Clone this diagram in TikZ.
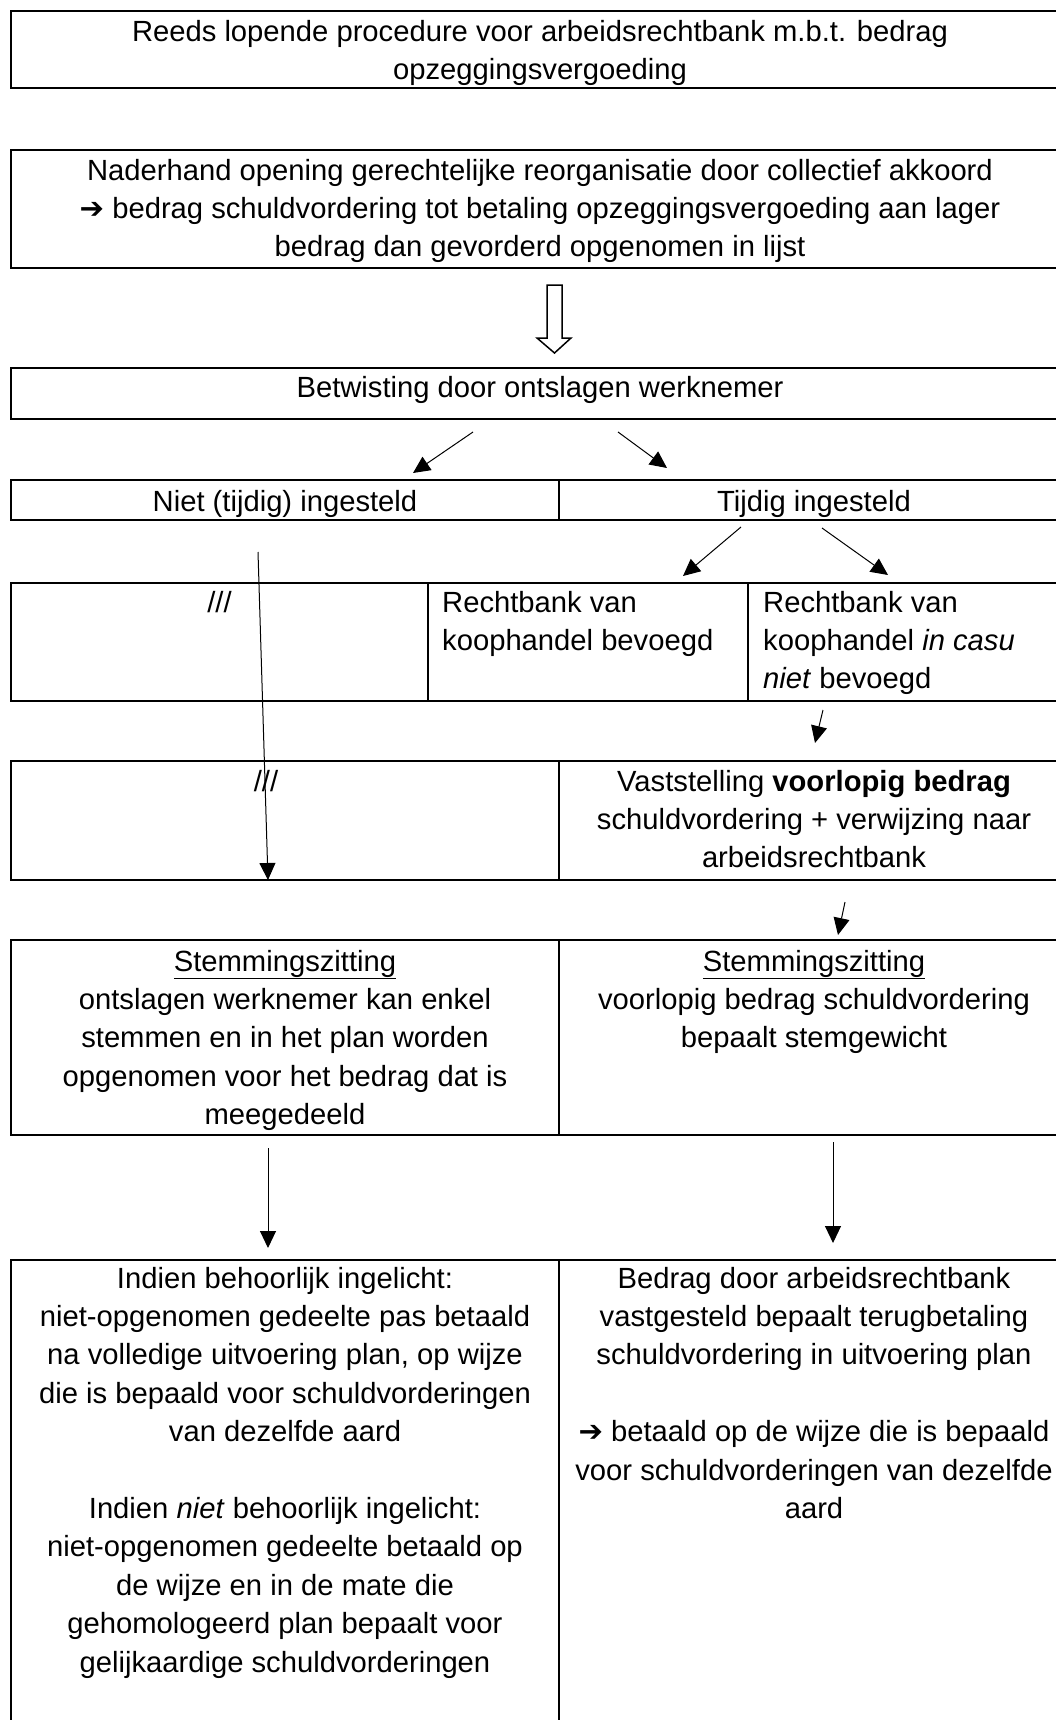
\documentclass[tikz,border=0pt]{standalone}
\usepackage{fontspec}
\setmainfont{Liberation Sans}
\newfontfamily\djv{DejaVu Sans}
\usetikzlibrary{arrows.meta}
\newcommand\myarrow{{\djv\bfseries ➔}}
\begin{document}
\begin{tikzpicture}[x=1pt,y=-1pt,
  cell/.style={draw, line width=1.6pt, inner sep=0pt, outer sep=0pt, anchor=north west},
  txt/.style={inner sep=0pt, anchor=north, align=center, font=\fontsize{29.2}{38.4}\selectfont},
  ltxt/.style={inner sep=0pt, anchor=north west, align=left, font=\fontsize{29.2}{38.4}\selectfont},
  arr/.style={line width=1pt, -{Triangle[length=17pt,width=16pt]}}]
\useasboundingbox (0,0) rectangle (1056,1720);
\clip (0,0) rectangle (1056,1720);
% cells
\node[cell, minimum width=1058pt, minimum height=77pt] (b1) at (11,11) {};
\node[cell, minimum width=1058pt, minimum height=118pt] (b2) at (11,150) {};
\node[cell, minimum width=1058pt, minimum height=51pt] (b3) at (11,368) {};
\node[cell, minimum width=548pt, minimum height=40pt] (r2l) at (11,480) {};
\node[cell, minimum width=510pt, minimum height=40pt] (r2r) at (559,480) {};
\node[cell, minimum width=417pt, minimum height=118pt] (r3a) at (11,583) {};
\node[cell, minimum width=320pt, minimum height=118pt] (r3b) at (428,583) {};
\node[cell, minimum width=321pt, minimum height=118pt] (r3c) at (748,583) {};
\node[cell, minimum width=548pt, minimum height=119pt] (r4l) at (11,761) {};
\node[cell, minimum width=510pt, minimum height=119pt] (r4r) at (559,761) {};
\node[cell, minimum width=548pt, minimum height=195pt] (r5l) at (11,940) {};
\node[cell, minimum width=510pt, minimum height=195pt] (r5r) at (559,940) {};
\node[cell, minimum width=548pt, minimum height=540pt] (r6l) at (11,1260) {};
\node[cell, minimum width=510pt, minimum height=540pt] (r6r) at (559,1260) {};
% texts
\node[txt] (t1) at ([yshift=-3pt]b1.north) {\strut Reeds lopende procedure voor arbeidsrechtbank m.b.t. bedrag\\opzeggingsvergoeding};
\node[txt] (t2) at ([yshift=-3pt]b2.north) {\strut Naderhand opening gerechtelijke reorganisatie door collectief akkoord\\\myarrow{} bedrag schuldvordering tot betaling opzeggingsvergoeding aan lager\\bedrag dan gevorderd opgenomen in lijst};
\node[txt] (t3) at ([yshift=-2pt]b3.north) {\strut Betwisting door ontslagen werknemer};
\node[txt] (t4) at ([yshift=-4pt]r2l.north) {\strut Niet (tijdig) ingesteld};
\node[txt] (t5) at ([yshift=-4pt]r2r.north) {\strut Tijdig ingesteld};
\node[txt] (t6) at ([yshift=-2pt]r3a.north) {\strut ///};
\node[ltxt] (t7) at ([xshift=14pt,yshift=-2pt]r3b.north west) {\strut Rechtbank van\\koophandel bevoegd};
\node[ltxt] (t8) at ([xshift=15pt,yshift=-2pt]r3c.north west) {\strut Rechtbank van\\koophandel \textit{in casu}\\\textit{niet} bevoegd};
\node[txt] (t9) at (266,764) {\strut ///};
\node[txt] (t10) at ([yshift=-3pt]r4r.north) {\strut Vaststelling \textbf{voorlopig bedrag}\\schuldvordering + verwijzing naar\\arbeidsrechtbank};
\node[txt] (t11) at ([yshift=-4pt]r5l.north) {\strut\underline{Stemmingszitting}\\ontslagen werknemer kan enkel\\stemmen en in het plan worden\\opgenomen voor het bedrag dat is\\meegedeeld};
\node[txt] (t12) at ([yshift=-4pt]r5r.north) {\strut\underline{Stemmingszitting}\\voorlopig bedrag schuldvordering\\bepaalt stemgewicht};
\node[txt] (t13) at ([yshift=-1pt]r6l.north) {\strut Indien behoorlijk ingelicht:\\niet-opgenomen gedeelte pas betaald\\na volledige uitvoering plan, op wijze\\die is bepaald voor schuldvorderingen\\van dezelfde aard\\[38.4pt]Indien \textit{niet} behoorlijk ingelicht:\\niet-opgenomen gedeelte betaald op\\de wijze en in de mate die\\gehomologeerd plan bepaalt voor\\gelijkaardige schuldvorderingen};
\node[txt] (t14) at ([yshift=-1pt]r6r.north) {\strut Bedrag door arbeidsrechtbank\\vastgesteld bepaalt terugbetaling\\schuldvordering in uitvoering plan\\[38.4pt]\myarrow{} betaald op de wijze die is bepaald\\voor schuldvorderingen van dezelfde\\aard};
% hollow arrow
\draw[line width=1.5pt, line join=miter] (547,285) -- (562,285) -- (562,338) -- (571,338) -- (554.5,353) -- (537,338) -- (547,338) -- cycle;
% arrow endpoints
\coordinate (a1s) at (473,432); \coordinate (a1e) at (413,473);
\coordinate (a2s) at (618,432); \coordinate (a2e) at (667,468);
\coordinate (a3s) at (741,527); \coordinate (a3e) at (683,576);
\coordinate (a4s) at (822,528); \coordinate (a4e) at (888,575);
\coordinate (a5s) at (823,710); \coordinate (a5e) at (815,743);
\coordinate (a6s) at (845,902); \coordinate (a6e) at (838,935);
\coordinate (lgs) at (258,552); \coordinate (lge) at (268,880);
\coordinate (a7s) at (268,1148); \coordinate (a7e) at (268,1248);
\coordinate (a8s) at (833,1142); \coordinate (a8e) at (833,1243);
\draw[arr] (a1s) -- (a1e);
\draw[arr] (a2s) -- (a2e);
\draw[arr] (a3s) -- (a3e);
\draw[arr] (a4s) -- (a4e);
\draw[arr] (a5s) -- (a5e);
\draw[arr] (a6s) -- (a6e);
\draw[arr] (lgs) -- (lge);
\draw[arr] (a7s) -- (a7e);
\draw[arr] (a8s) -- (a8e);
\end{tikzpicture}
\end{document}
